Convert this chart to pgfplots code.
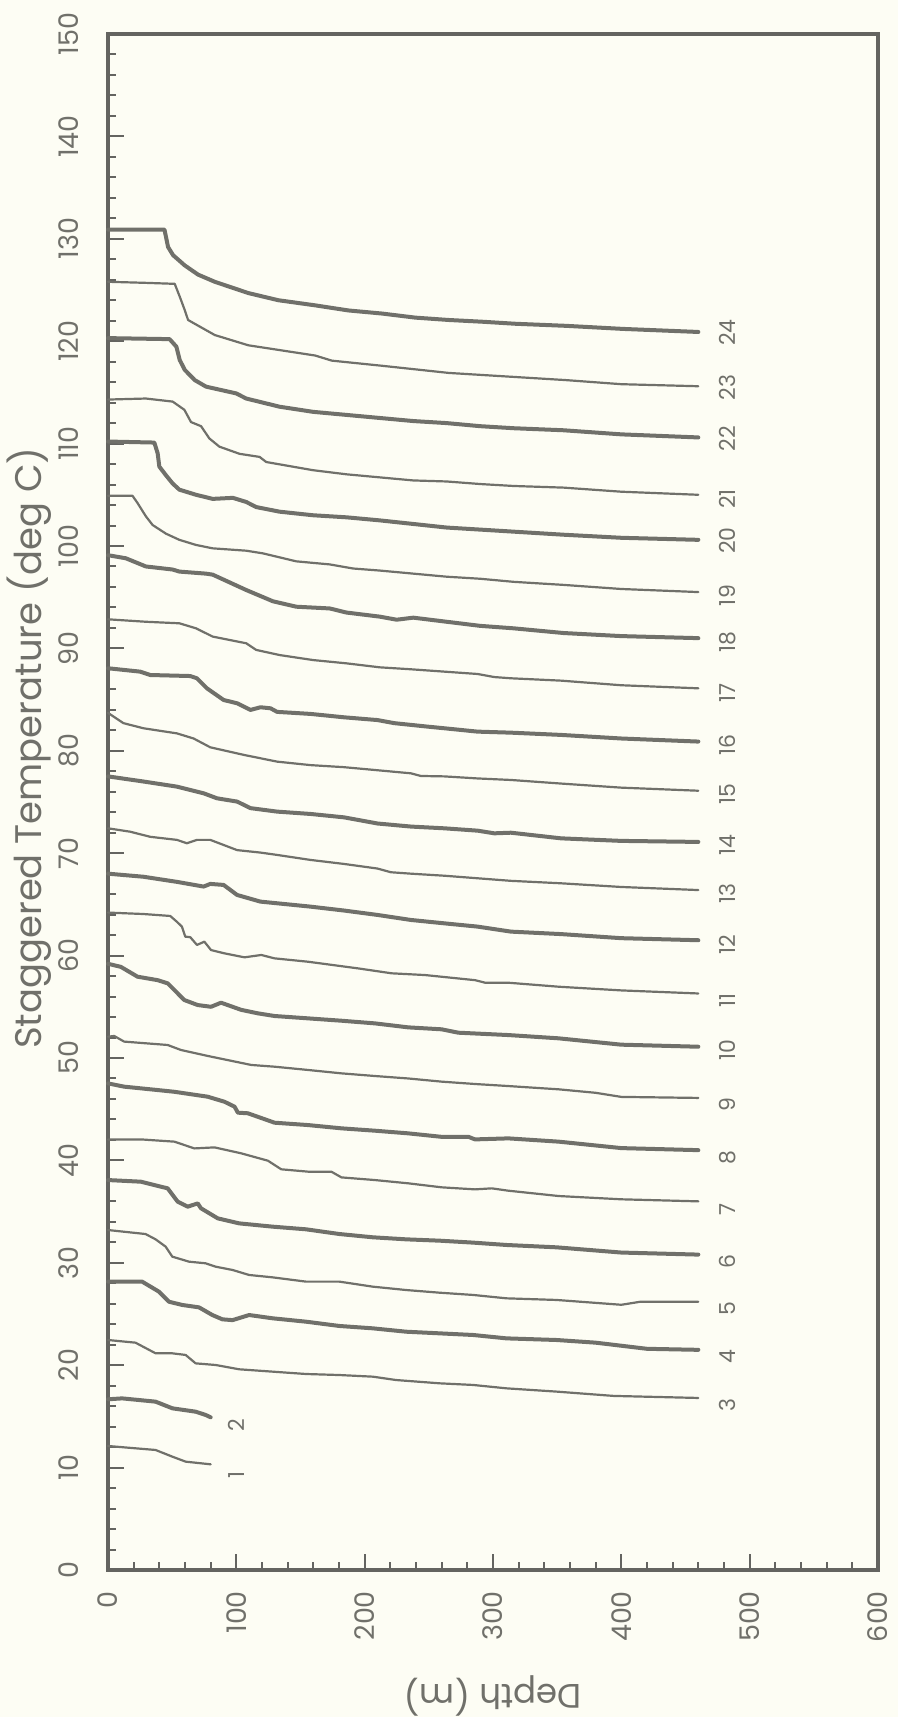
\documentclass[border=0pt]{standalone}
\usepackage{fontspec}
\setmainfont{Poppins}
\usepackage{pgfplots}
\pgfplotsset{compat=1.18}
\usetikzlibrary{backgrounds}
\definecolor{ink}{RGB}{112,112,106}
\definecolor{frame}{RGB}{100,100,96}
\definecolor{bg}{RGB}{253,253,244}
\begin{document}
\begin{tikzpicture}
\begin{axis}[
  name=ax,
  scale only axis, width=385pt, height=768pt,
  xmin=0, xmax=600, ymin=0, ymax=150,
  xtick distance=100, ytick distance=10,
  minor x tick num=4, minor y tick num=4,
  xtick pos=left, ytick pos=left,
  tick align=inside,
  major tick length=8pt, minor tick length=4pt,
  axis line style={frame, line width=2pt},
  every tick/.style={frame, line width=1pt},
  tick label style={text=ink, font=\fontsize{13.5}{14}\selectfont},
  /pgf/number format/assume math mode=true,
  xticklabel style={rotate=90, anchor=east},
  yticklabel style={rotate=90, anchor=south},
  xticklabel shift=7pt, yticklabel shift=11pt,
  ylabel={Staggered Temperature (deg C)},
  xlabel={Depth (m)},
  ylabel style={at={(axis description cs:-0.102,0.535)}, anchor=center, inner sep=0pt, text=ink, font=\fontsize{18.5}{20}\selectfont},
  xlabel style={at={(axis description cs:0.5,-0.082)}, anchor=center, inner sep=0pt, rotate=180, text=ink, font=\fontsize{17}{18}\selectfont},
  clip=false,
  every axis plot/.append style={ink, line join=round, line cap=round, no markers},
  thk/.style={line width=2pt},
  thn/.style={line width=1.1pt},
]
% 24
\addplot[thk] coordinates {(0,130.9) (44,130.9) (46.8,129.2) (50.7,128.4) (59.8,127.4) (70.2,126.5) (83.2,125.8) (109.3,124.7) (132.7,124.0) (161.4,123.5) (187.4,123.0) (213.4,122.7) (239.5,122.3) (265.5,122.07) (291.6,121.9) (317.6,121.7) (356.7,121.5) (401,121.2) (460,120.9)};
% 23
\addplot[thn] coordinates {(0,125.8) (28.5,125.7) (52,125.6) (55.9,124.35) (59.8,123.04) (62.4,122.07) (67.6,121.7) (83.2,120.6) (109.3,119.6) (135.3,119.1) (161.4,118.6) (174.4,118.1) (213.4,117.6) (265.5,116.9) (317.6,116.5) (356.7,116.2) (400,115.8) (460,115.6)};
% 22
\addplot[thk] coordinates {(0,120.3) (48,120.2) (53.3,119.46) (55.9,118.16) (59.8,117.2) (67.6,116.2) (76.4,115.56) (99.9,114.9) (107.7,114.4) (133.7,113.6) (159.8,113.1) (185.8,112.8) (211.8,112.5) (237.9,112.2) (263.9,112.0) (290,111.7) (316,111.5) (355,111.3) (400,110.9) (460,110.6)};
% 21
\addplot[thn] coordinates {(0,114.3) (29.5,114.4) (50.4,114.1) (59.5,113.3) (64.7,112.1) (72.5,111.7) (79,110.5) (86.8,109.7) (102.5,109.0) (118.1,108.7) (123.3,108.2) (159.8,107.4) (185.8,107.0) (211.8,106.7) (237.9,106.4) (263.9,106.3) (290,106.05) (316,105.86) (355,105.7) (400,105.3) (460,105.0)};
% 20
\addplot[thk] coordinates {(0,110.2) (36.1,110.1) (38.7,109.05) (40,107.75) (45.2,106.9) (50.4,106.1) (55.6,105.5) (68.6,105.0) (81.6,104.6) (97.3,104.7) (107.7,104.3) (115.5,103.8) (133.7,103.35) (159.8,103.0) (185.8,102.8) (211.8,102.5) (237.9,102.15) (263.9,101.8) (290,101.6) (316,101.4) (355,101.1) (400,100.8) (460,100.6)};
% 19
\addplot[thn] coordinates {(0,104.9) (19.1,104.9) (23,104.2) (29.5,102.9) (34.75,102.05) (45.2,101.2) (55.6,100.6) (68.6,100.1) (81.6,99.77) (107.7,99.54) (120.7,99.28) (146.7,98.5) (172.8,98.2) (191,97.8) (211.8,97.6) (237.9,97.3) (263.9,97.0) (290,96.8) (316,96.5) (355,96.2) (400,95.8) (460,95.5)};
% 18
\addplot[thk] coordinates {(0,99.1) (13.9,98.8) (29.5,98.0) (50.4,97.7) (55.6,97.5) (76.4,97.3) (81.6,97.2) (107.7,95.7) (128.5,94.6) (146.7,94.07) (172.8,93.9) (185.8,93.5) (211.8,93.1) (224.9,92.8) (237.9,93.0) (263.9,92.6) (290,92.2) (316,91.96) (355,91.5) (400,91.2) (460,91.0)};
% 17
\addplot[thn] coordinates {(0,92.84) (29.5,92.6) (55.6,92.45) (68.6,91.96) (81.6,91.15) (107.7,90.5) (115.5,89.85) (133.7,89.35) (159.8,88.86) (185.8,88.54) (211.8,88.15) (236,87.96) (262,87.73) (288,87.5) (301,87.2) (314,87.08) (353,86.85) (400,86.4) (460,86.1)};
% 16
\addplot[thk] coordinates {(0,88.06) (25,87.73) (32.9,87.4) (64.1,87.3) (69.3,87.08) (77.1,86.1) (90.1,84.96) (100.6,84.64) (111,83.99) (118.8,84.25) (126.6,84.15) (131.8,83.8) (157.9,83.6) (183.9,83.27) (210,83.0) (223,82.7) (249,82.36) (262,82.2) (288,81.87) (314,81.77) (353,81.55) (400,81.2) (460,80.9)};
% 15
\addplot[thn] coordinates {(0,83.7) (12,82.7) (27.6,82.2) (53.7,81.7) (66.7,81.2) (79.7,80.34) (105.8,79.6) (131.8,78.94) (157.9,78.6) (183.9,78.4) (210,78.1) (236,77.8) (243.8,77.54) (262,77.5) (288,77.3) (314,77.15) (353,76.8) (400,76.4) (460,76.1)};
% 14
\addplot[thk] coordinates {(0,77.5) (27.6,77.0) (53.7,76.5) (74.5,75.85) (84.9,75.36) (100.6,75.04) (111,74.4) (131.8,74.06) (157.9,73.83) (183.9,73.5) (210,72.9) (236,72.6) (262,72.43) (288,72.2) (301,71.94) (314,72.0) (353,71.45) (400,71.2) (460,71.1)};
% 13
\addplot[thn] coordinates {(0,72.43) (17.2,72.1) (32.9,71.6) (53.7,71.3) (61.5,70.97) (69.3,71.3) (79.7,71.3) (100.6,70.3) (118.8,70.06) (131.8,69.83) (157.9,69.34) (183.9,68.95) (210,68.5) (220.4,68.14) (236,68.0) (262,67.8) (288,67.55) (314,67.3) (353,67.06) (400,66.7) (460,66.4)};
% 12
\addplot[thk] coordinates {(0,68.0) (27.6,67.7) (53.7,67.2) (74.5,66.74) (79.7,67.0) (90.1,66.9) (100.6,65.92) (118.8,65.27) (157.9,64.78) (183.9,64.4) (210,63.97) (236,63.48) (262,63.15) (288,62.83) (314,62.34) (353,62.1) (400,61.7) (460,61.5)};
% 11
\addplot[thn] coordinates {(0,64.2) (27.6,64.06) (48.5,63.87) (53.7,63.3) (57.6,62.83) (60.2,61.85) (64.1,61.8) (69.3,61.04) (75.1,61.36) (80.3,60.54) (90.7,60.22) (106.4,59.83) (119.4,60.06) (129.8,59.73) (155.9,59.4) (194.9,58.75) (221,58.27) (247,58.1) (286,57.6) (293.9,57.35) (312,57.35) (351.2,56.96) (400,56.6) (460,56.3)};
% 10
\addplot[thk] coordinates {(0,59.2) (10,58.9) (23,57.94) (38.7,57.6) (46.5,57.29) (59.5,55.66) (69.9,55.17) (80.3,55.0) (88.1,55.4) (103.8,54.7) (116.8,54.36) (129.8,54.1) (155.9,53.87) (181.9,53.64) (208,53.38) (234,52.99) (260,52.8) (273,52.47) (312,52.24) (351.2,51.92) (400,51.3) (460,51.1)};
% 9
\addplot[thn] coordinates {(0,52.08) (4.8,52.15) (12.6,51.6) (46.5,51.27) (56.9,50.78) (77.7,50.2) (111.6,49.32) (129.8,49.15) (155.9,48.83) (181.9,48.5) (208,48.24) (234,48.0) (260,47.69) (286,47.46) (312,47.26) (351.2,46.94) (380,46.6) (400,46.2) (460,46.1)};
% 8
\addplot[thk] coordinates {(0,47.52) (12.6,47.2) (38.7,46.87) (51.7,46.7) (77.7,46.22) (90.7,45.73) (98.6,45.25) (101.2,44.66) (109,44.6) (129.8,43.68) (155.9,43.45) (181.9,43.13) (208,42.9) (234,42.64) (260,42.3) (280.9,42.3) (286,42.05) (312,42.15) (351.2,41.83) (400,41.2) (460,41.0)};
% 7
\addplot[thn] coordinates {(0,42.05) (25.6,42.05) (51.7,41.83) (67.3,41.17) (83,41.27) (103.8,40.69) (124.6,39.97) (135,39.13) (155.9,38.9) (174,38.9) (181.9,38.34) (208,38.08) (234,37.76) (260,37.37) (286,37.17) (299,37.27) (312,37.04) (351.2,36.52) (400,36.2) (460,36.0)};
% 6
\addplot[thk] coordinates {(0,38.08) (25.6,37.92) (46.5,37.27) (54.3,35.97) (62.1,35.48) (69.9,35.8) (72.5,35.32) (85.5,34.34) (102.2,33.85) (128.2,33.53) (154.3,33.27) (180.3,32.81) (206.3,32.49) (232.4,32.29) (258.4,32.16) (284.5,31.97) (310.5,31.74) (349.6,31.51) (400,31.0) (460,30.8)};
% 5
\addplot[thn] coordinates {(0,33.2) (29.25,32.81) (37.1,32.29) (44.9,31.58) (50.1,30.6) (63.1,30.11) (76.1,29.95) (83.9,29.62) (97,29.3) (110,28.81) (128.2,28.58) (154.3,28.16) (180.3,28.16) (206.3,27.67) (232.4,27.34) (258.4,27.08) (284.5,26.86) (310.5,26.53) (349.6,26.37) (400,25.9) (415,26.2) (460,26.2)};
% 4
\addplot[thk] coordinates {(0,28.16) (26.6,28.16) (39.7,27.18) (47.5,26.2) (57.9,25.88) (70.9,25.65) (81.3,24.9) (89.1,24.48) (97,24.4) (110,24.9) (128.2,24.58) (154.3,24.25) (180.3,23.83) (206.3,23.6) (232.4,23.27) (258.4,23.11) (284.5,22.95) (310.5,22.62) (349.6,22.46) (380,22.2) (420,21.6) (460,21.5)};
% 3
\addplot[thn] coordinates {(0,22.46) (21.4,22.2) (37.1,21.16) (50.1,21.16) (60.5,21.0) (68.3,20.18) (83.9,20.02) (102.2,19.6) (128.2,19.37) (154.3,19.14) (180.3,19.04) (206.3,18.88) (224.6,18.55) (258.4,18.23) (284.5,18.07) (310.5,17.74) (349.6,17.42) (394,17.0) (460,16.8)};
% 2
\addplot[thk] coordinates {(0,16.67) (11,16.76) (37.1,16.44) (50.1,15.79) (68.3,15.46) (76.1,15.14) (80,14.91)};
% 1
\addplot[thn] coordinates {(0,12.11) (37.1,11.72) (50.1,11.07) (60.5,10.58) (80,10.32)};
% curve labels
\begin{scope}[every node/.style={rotate=90, anchor=west, inner sep=0pt, text=ink, font=\fontsize{11}{12}\selectfont}]
\node at (axis cs:483,119.5) {24};
\node at (axis cs:483,114.2) {23};
\node at (axis cs:483,109.2) {22};
\node at (axis cs:483,103.6) {21};
\node at (axis cs:483,99.2) {20};
\node at (axis cs:483,94.1) {19};
\node at (axis cs:483,89.6) {18};
\node at (axis cs:483,84.7) {17};
\node at (axis cs:483,79.5) {16};
\node at (axis cs:483,74.7) {15};
\node at (axis cs:483,69.7) {14};
\node at (axis cs:483,65.0) {13};
\node at (axis cs:483,60.1) {12};
\node at (axis cs:483,54.9) {11};
\node at (axis cs:483,49.7) {10};
\node at (axis cs:483,44.7) {9};
\node at (axis cs:483,39.6) {8};
\node at (axis cs:483,34.6) {7};
\node at (axis cs:483,29.4) {6};
\node at (axis cs:483,24.8) {5};
\node at (axis cs:483,20.1) {4};
\node at (axis cs:483,15.4) {3};
\node at (axis cs:100,13.5) {2};
\node at (axis cs:100,8.9) {1};
\end{scope}
\end{axis}
\begin{scope}[on background layer]
\fill[bg] ([xshift=-54pt,yshift=-73.5pt]ax.south west) rectangle ([xshift=10pt,yshift=17pt]ax.north east);
\end{scope}
\end{tikzpicture}
\end{document}
